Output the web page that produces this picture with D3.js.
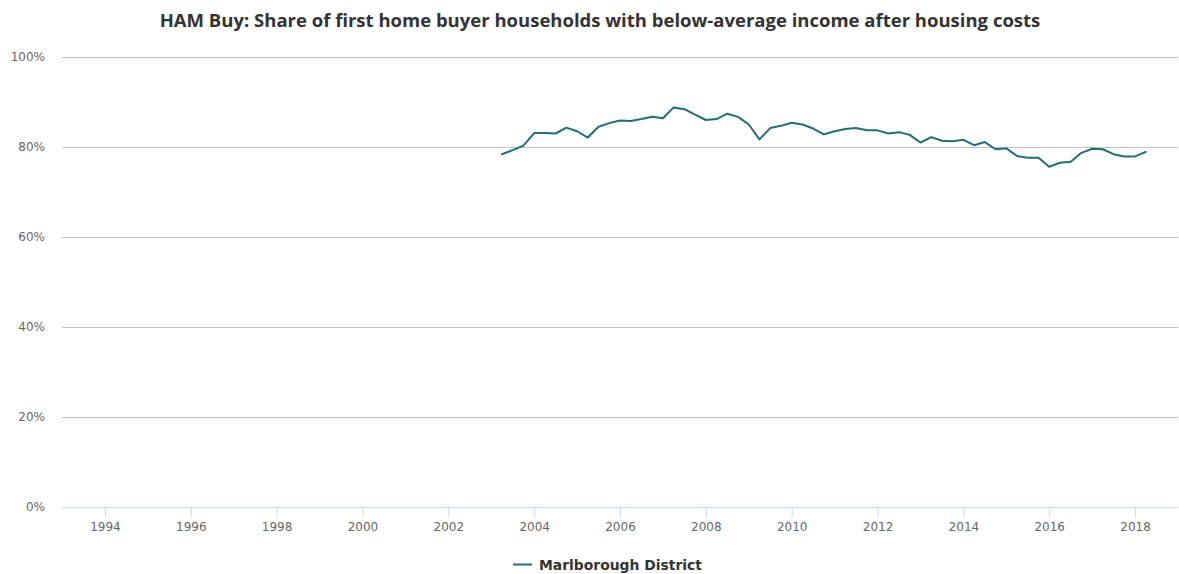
<!DOCTYPE html>
<html>
<head>
<meta charset="utf-8">
<script src="https://cdn.jsdelivr.net/npm/d3@7"></script>
<style>
  html, body { margin: 0; padding: 0; background: #fff; }
  svg { display: block; }
</style>
</head>
<body>
<svg id="chart" width="1179" height="574"></svg>
<script>
const title = "HAM Buy: Share of first home buyer households with below-average income after housing costs";
const seriesName = "Marlborough District";
const startYear = 2003.25; // first quarter shown
const quarterStep = 0.25;
const shareValues = [
  78.4, 79.3, 80.3, 83.1, 83.1, 83.0, 84.3, 83.5, 82.1, 84.5,
  85.3, 85.9, 85.8, 86.2, 86.7, 86.4, 88.8, 88.4, 87.2, 86.0,
  86.2, 87.4, 86.7, 85.0, 81.7, 84.2, 84.7, 85.4, 85.0, 84.1,
  82.8, 83.5, 84.0, 84.2, 83.7, 83.7, 83.0, 83.3, 82.7, 81.0,
  82.2, 81.4, 81.3, 81.6, 80.4, 81.1, 79.5, 79.7, 78.0, 77.6,
  77.6, 75.6, 76.5, 76.7, 78.7, 79.6, 79.5, 78.4, 77.9, 77.9,
  78.9
];
const quarterTimes = shareValues.map((v, i) => startYear + i * quarterStep);
const xTickYears = [1994, 1996, 1998, 2000, 2002, 2004, 2006, 2008, 2010, 2012, 2014, 2016, 2018];
const yTickValues = [0, 20, 40, 60, 80, 100];

const svg = d3.select("#chart");
const W = 1179, H = 574;
const m = { left: 62, right: 1, top: 57, bottom: 67 };
const plotRight = W - m.right;
const plotBottom = H - m.bottom;

const x = d3.scaleLinear().domain([1993, 2019]).range([m.left, plotRight]);
const y = d3.scaleLinear().domain([0, 100]).range([plotBottom, m.top]);

// Title
svg.append("text")
  .attr("x", 600).attr("y", 27)
  .attr("text-anchor", "middle")
  .attr("font-family", "'Open Sans', sans-serif")
  .attr("font-weight", "bold")
  .attr("font-size", 18.5)
  .attr("fill", "#333")
  .text(title);

// Gridlines
svg.append("g")
  .selectAll("line")
  .data(yTickValues.filter(d => d > 0))
  .join("line")
  .attr("x1", m.left).attr("x2", plotRight)
  .attr("y1", d => Math.round(y(d)) + 0.5).attr("y2", d => Math.round(y(d)) + 0.5)
  .attr("stroke", "#c0c0c0").attr("stroke-width", 1);

// Y axis labels
const yAxis = d3.axisLeft(y).tickValues(yTickValues).tickSize(0).tickPadding(0)
  .tickFormat(d => d + "%");
const gy = svg.append("g").attr("transform", `translate(45,0)`).call(yAxis);
gy.select(".domain").remove();
gy.selectAll("text")
  .attr("font-family", "'DejaVu Sans', sans-serif")
  .attr("font-size", 12)
  .attr("fill", "#666");

// X axis
const xAxis = d3.axisBottom(x).tickValues(xTickYears).tickSize(10).tickPadding(5)
  .tickFormat(d3.format("d"));
const gx = svg.append("g").attr("transform", `translate(0,${Math.round(plotBottom) + 0.5})`).call(xAxis);
gx.select(".domain").attr("d", `M${m.left},0H${plotRight}`).attr("stroke", "#ccd6eb").attr("stroke-width", 1);
gx.selectAll(".tick line").attr("stroke", "#ccd6eb");
gx.selectAll("text")
  .attr("font-family", "'DejaVu Sans', sans-serif")
  .attr("font-size", 12)
  .attr("fill", "#666");

// Line
const line = d3.line()
  .x((d, i) => x(quarterTimes[i]))
  .y(d => y(d));
svg.append("path")
  .datum(shareValues)
  .attr("d", line)
  .attr("fill", "none")
  .attr("stroke", "#1f6e78")
  .attr("stroke-width", 2)
  .attr("stroke-linejoin", "round")
  .attr("stroke-linecap", "round");

// Legend
const lg = svg.append("g");
lg.append("line")
  .attr("x1", 513).attr("x2", 532).attr("y1", 564.5).attr("y2", 564.5)
  .attr("stroke", "#1f6e78").attr("stroke-width", 2);
lg.append("text")
  .attr("x", 539).attr("y", 569.5)
  .attr("font-family", "'DejaVu Sans', sans-serif")
  .attr("font-weight", "bold")
  .attr("font-size", 13.9)
  .attr("fill", "#333")
  .text(seriesName);
</script>
</body>
</html>
